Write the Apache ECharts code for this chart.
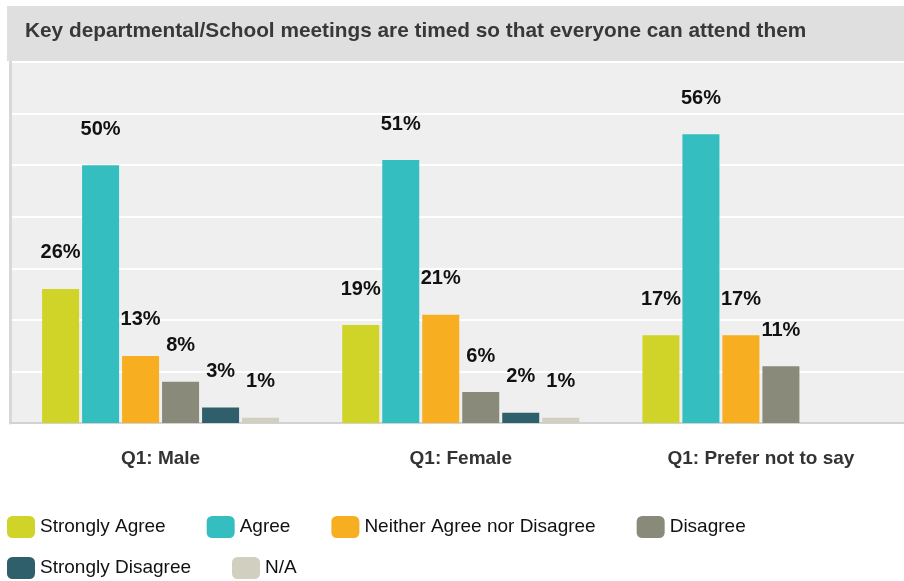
<!DOCTYPE html>
<html>
<head>
<meta charset="utf-8">
<script src="https://cdn.jsdelivr.net/npm/echarts@6/dist/echarts.min.js"></script>
<style>
  html, body { margin: 0; padding: 0; background: #ffffff; overflow: hidden; }
  /* the plot runs slightly past the right edge of the window */
  #chart { width: 911px; height: 581px; }
</style>
</head>
<body>
<div id="chart"></div>
<script>
// Survey responses by gender group (percent of respondents)
const categories = ['Q1: Male', 'Q1: Female', 'Q1: Prefer not to say'];
const seriesNames = ['Strongly Agree', 'Agree', 'Neither Agree nor Disagree', 'Disagree', 'Strongly Disagree', 'N/A'];
const stronglyAgree = [26, 19, 17];
const agree = [50, 51, 56];
const neither = [13, 21, 17];
const disagree = [8, 6, 11];
const stronglyDisagree = [3, 2, null];
const notApplicable = [1, 1, null];
const yTicks = { min: 0, max: 70, interval: 10 };

const seriesValues = [stronglyAgree, agree, neither, disagree, stronglyDisagree, notApplicable];
const colors = ['#d1d428', '#34bec0', '#f7af21', '#898a79', '#2e5f6b', '#d0cfc0'];
const FONT = "'Liberation Sans', Arial, sans-serif";

const chart = echarts.init(document.getElementById('chart'), null, { renderer: 'canvas' });

const series = seriesNames.map((name, i) => ({
  name: name,
  type: 'bar',
  data: seriesValues[i],
  barWidth: 37,
  barGap: '8.1%',
  itemStyle: { color: colors[i] },
  label: {
    show: true,
    position: 'top',
    distance: 26,
    formatter: '{c}%',
    color: '#111111',
    fontFamily: FONT,
    fontWeight: 'bold',
    fontSize: 20
  }
}));

const legendCommon = {
  icon: 'roundRect',
  itemWidth: 28,
  itemHeight: 22,
  itemGap: 41,
  padding: 0,
  selectedMode: false,
  textStyle: { fontFamily: FONT, fontSize: 19, color: '#111111' }
};

chart.setOption({
  animation: false,
  color: colors,
  title: {
    text: 'Key departmental/School meetings are timed so that everyone can attend them',
    left: 25,
    top: 21,
    padding: 0,
    textStyle: { fontFamily: FONT, fontWeight: 'bold', fontSize: 20.8, color: '#383838' }
  },
  graphic: [{
    type: 'rect',
    left: 7,
    top: 6,
    shape: { width: 904, height: 55 },
    style: { fill: '#dfdfdf' },
    z: -10
  }],
  legend: [
    Object.assign({ data: seriesNames.slice(0, 4), left: 7, top: 516 }, legendCommon),
    Object.assign({ data: seriesNames.slice(4), left: 7, top: 557 }, legendCommon)
  ],
  grid: {
    left: 10.5,
    right: 0,
    top: 62,
    bottom: 158,
    show: true,
    backgroundColor: '#efefef',
    borderWidth: 0
  },
  xAxis: {
    type: 'category',
    data: categories,
    axisTick: { show: false },
    axisLine: { show: true, lineStyle: { color: '#d2d2d2', width: 2 } },
    axisLabel: {
      margin: 26,
      fontFamily: FONT,
      fontWeight: 'bold',
      fontSize: 19,
      color: '#333333'
    }
  },
  yAxis: {
    type: 'value',
    min: yTicks.min,
    max: yTicks.max,
    interval: yTicks.interval,
    axisLabel: { show: false },
    axisTick: { show: false },
    axisLine: { show: true, lineStyle: { color: '#d8d8d8', width: 3 } },
    splitLine: { show: true, lineStyle: { color: '#ffffff', width: 2 } }
  },
  series: series
});
</script>
</body>
</html>
